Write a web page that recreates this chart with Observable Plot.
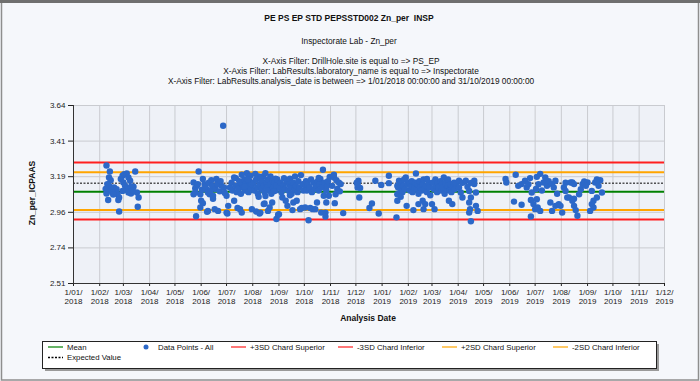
<!DOCTYPE html>
<html><head><meta charset="utf-8">
<script src="https://cdn.jsdelivr.net/npm/d3@7"></script>
<script src="https://cdn.jsdelivr.net/npm/@observablehq/plot@0.6"></script>
<style>
html,body{margin:0;padding:0;background:#f5f7fb;}
#chart{width:700px;height:381px;position:relative;overflow:hidden;}
</style></head><body><div id="chart"></div>
<script>
// ---- texts ----
const title = "PE PS EP STD PEPSSTD002 Zn_per  INSP";
const subtitle = "Inspectorate Lab - Zn_per";
const filterLines = [
  "X-Axis Filter: DrillHole.site is equal to => PS_EP",
  "X-Axis Filter: LabResults.laboratory_name is equal to => Inspectorate",
  "X-Axis Filter: LabResults.analysis_date is between => 1/01/2018 00:00:00 and 31/10/2019 00:00:00"
];
const yTitle = "Zn_per_ICPAAS";
const xTitle = "Analysis Date";

// ---- axes ----
const xStart = "2018-01-01", xEnd = "2019-12-01";
const yTicks = [2.51, 2.736, 2.962, 3.188, 3.414, 3.64];

// ---- control lines ----
const limitNames  = ["Mean", "+3SD Chard Superior", "-3SD Chard Inferior", "+2SD Chard Superior", "-2SD Chard Inferior", "Expected Value"];
const limitValues = [3.092, 3.278, 2.916, 3.217, 2.976, 3.147];
const pointsName = "Data Points - All";

// ---- data points [date, value] ----
const pts2018a = [["2018-02-09",3.259],["2018-02-13",3.221],["2018-02-12",3.183],["2018-02-14",3.166],["2018-02-10",3.141],["2018-02-13",3.124],["2018-02-15",3.109],["2018-02-10",3.098],["2018-02-09",3.081],["2018-02-11",3.040],["2018-02-18",3.120],["2018-02-20",3.094],["2018-02-22",3.077],["2018-02-24",3.056],["2018-02-23",3.040],["2018-02-21",3.109],["2018-02-26",3.173],["2018-02-28",3.194],["2018-03-02",3.204],["2018-03-05",3.208],["2018-03-07",3.183],["2018-03-09",3.162],["2018-03-01",3.151],["2018-03-03",3.130],["2018-03-05",3.109],["2018-03-07",3.088],["2018-03-10",3.081],["2018-03-13",3.124],["2018-03-15",3.221],["2018-03-17",3.088],["2018-03-19",3.056],["2018-03-18",2.997],["2018-02-24",2.967],["2018-02-11",3.136],["2018-02-16",3.086],["2018-03-10",3.124],["2018-02-28",3.098],["2018-02-08",3.111],["2018-03-12",3.100],["2018-02-17",3.075]];
const pts2018b = [["2018-05-23",3.151],["2018-05-23",3.077],["2018-05-25",3.088],["2018-05-26",2.937],["2018-05-27",3.130],["2018-05-29",3.221],["2018-05-31",3.077],["2018-05-31",2.992],["2018-06-01",3.035],["2018-06-03",3.173],["2018-06-03",3.020],["2018-06-05",3.141],["2018-06-07",3.109],["2018-06-08",2.965],["2018-06-09",3.088],["2018-06-11",3.077],["2018-06-09",2.971],["2018-06-13",3.166],["2018-06-15",3.048],["2018-06-15",3.067],["2018-06-17",2.982],["2018-06-19",3.173],["2018-06-21",2.971],["2018-06-25",3.130],["2018-06-27",3.511],["2018-07-01",3.067],["2018-07-01",2.960],["2018-07-03",3.003],["2018-07-02",2.954],["2018-05-25",3.115],["2018-05-28",3.140],["2018-06-02",3.105],["2018-06-06",3.125],["2018-06-10",3.150],["2018-06-12",3.100],["2018-06-14",3.130],["2018-06-18",3.110],["2018-06-20",3.140],["2018-06-23",3.095],["2018-06-24",3.160],["2018-06-28",3.120],["2018-06-29",3.085],["2018-07-10",3.183],["2018-07-12",3.179],["2018-07-17",3.141],["2018-07-25",3.211],["2018-07-27",3.187],["2018-07-29",3.194],["2018-07-10",3.035],["2018-07-14",2.989],["2018-07-17",2.982],["2018-07-19",2.960],["2018-07-05",3.120],["2018-07-07",3.150],["2018-07-08",3.100],["2018-07-12",3.130],["2018-07-13",3.090],["2018-07-15",3.110],["2018-07-16",3.160],["2018-07-18",3.080],["2018-07-20",3.140],["2018-07-21",3.120],["2018-07-22",3.170],["2018-07-23",3.100],["2018-07-24",3.150],["2018-07-26",3.130],["2018-07-27",3.090],["2018-07-28",3.160],["2018-07-30",3.110],["2018-07-31",3.140],["2018-07-31",2.982],["2018-07-19",3.200],["2018-07-22",3.125],["2018-07-26",3.170]];
const pts2018c = [["2018-08-04",3.206],["2018-08-08",3.190],["2018-08-13",3.190],["2018-08-16",3.210],["2018-08-22",3.190],["2018-08-28",3.175],["2018-08-05",2.967],["2018-08-09",2.954],["2018-08-10",2.960],["2018-08-15",3.018],["2018-08-14",3.014],["2018-08-19",2.971],["2018-08-21",2.992],["2018-08-24",3.024],["2018-08-29",2.919],["2018-08-31",2.946],["2018-08-02",3.150],["2018-08-03",3.100],["2018-08-05",3.170],["2018-08-06",3.120],["2018-08-07",3.080],["2018-08-09",3.140],["2018-08-10",3.180],["2018-08-11",3.110],["2018-08-12",3.160],["2018-08-14",3.130],["2018-08-15",3.090],["2018-08-17",3.150],["2018-08-18",3.120],["2018-08-19",3.170],["2018-08-20",3.100],["2018-08-22",3.140],["2018-08-23",3.080],["2018-08-24",3.160],["2018-08-25",3.120],["2018-08-27",3.150],["2018-08-28",3.100],["2018-08-29",3.130],["2018-08-30",3.170],["2018-08-08",3.060],["2018-08-16",3.065],["2018-08-26",3.095],["2018-09-07",3.179],["2018-09-14",3.175],["2018-09-20",3.190],["2018-09-27",3.198],["2018-09-05",3.056],["2018-09-09",3.035],["2018-09-11",3.003],["2018-09-17",2.976],["2018-09-18",3.024],["2018-09-22",3.035],["2018-09-26",2.982],["2018-09-28",2.989],["2018-09-01",2.950],["2018-09-02",3.120],["2018-09-03",3.150],["2018-09-04",3.090],["2018-09-06",3.130],["2018-09-08",3.110],["2018-09-10",3.160],["2018-09-12",3.100],["2018-09-13",3.140],["2018-09-15",3.120],["2018-09-16",3.080],["2018-09-18",3.150],["2018-09-19",3.110],["2018-09-21",3.130],["2018-09-23",3.090],["2018-09-24",3.160],["2018-09-25",3.120],["2018-09-29",3.140],["2018-09-30",3.100],["2018-09-14",3.070]];
const pts2018d = [["2018-10-20",3.173],["2018-10-23",3.232],["2018-10-31",3.187],["2018-10-02",2.992],["2018-10-06",2.912],["2018-10-08",2.989],["2018-10-11",2.982],["2018-10-14",2.982],["2018-10-16",3.024],["2018-10-21",2.960],["2018-10-24",3.067],["2018-10-26",2.960],["2018-10-26",2.935],["2018-10-27",3.024],["2018-10-30",3.067],["2018-10-02",3.130],["2018-10-03",3.160],["2018-10-04",3.100],["2018-10-05",3.140],["2018-10-07",3.120],["2018-10-09",3.170],["2018-10-10",3.090],["2018-10-12",3.150],["2018-10-13",3.110],["2018-10-15",3.130],["2018-10-17",3.160],["2018-10-18",3.100],["2018-10-19",3.140],["2018-10-22",3.120],["2018-10-25",3.150],["2018-10-27",3.100],["2018-10-28",3.130],["2018-10-29",3.160],["2018-10-18",3.180],["2018-11-05",3.183],["2018-11-05",3.200],["2018-11-06",3.020],["2018-11-16",2.957],["2018-11-13",3.141],["2018-11-03",3.130],["2018-11-08",3.165],["2018-11-09",3.110],["2018-11-11",3.150],["2018-11-07",3.077],["2018-11-12",3.095],["2018-12-03",3.120],["2018-12-04",3.162],["2018-12-06",3.116],["2018-12-05",3.056],["2018-12-17",2.989],["2018-12-20",3.018],["2018-12-24",3.162],["2018-12-28",2.954],["2018-12-31",3.136],["2018-12-02",3.150],["2018-12-03",3.140]];
const pts2019a = [["2019-01-09",3.194],["2019-01-09",3.147],["2019-01-18",2.930],["2019-01-19",3.130],["2019-01-21",3.162],["2019-01-19",3.077],["2019-01-19",3.035],["2019-01-29",3.183],["2019-01-30",3.003],["2019-01-20",3.120],["2019-01-22",3.140],["2019-01-23",3.100],["2019-01-24",3.150],["2019-01-25",3.090],["2019-01-26",3.130],["2019-01-27",3.170],["2019-01-28",3.110],["2019-01-31",3.140],["2019-01-23",3.060],["2019-02-07",2.976],["2019-02-10",3.208],["2019-02-02",3.150],["2019-02-03",3.100],["2019-02-04",3.130],["2019-02-05",3.160],["2019-02-06",3.090],["2019-02-08",3.120],["2019-02-09",3.150],["2019-02-11",3.110],["2019-02-12",3.140],["2019-02-13",3.080],["2019-02-14",3.160],["2019-02-15",3.120],["2019-02-17",3.100],["2019-02-18",3.140],["2019-02-19",3.170],["2019-02-20",3.110],["2019-02-22",3.130],["2019-02-23",3.090],["2019-02-25",3.150],["2019-02-26",3.120],["2019-02-27",3.070],["2019-02-18",3.035],["2019-02-19",2.982],["2019-02-21",3.014],["2019-02-13",3.014],["2019-02-23",3.173]];
const pts2019b = [["2019-03-01",3.014],["2019-03-04",2.982],["2019-03-15",3.183],["2019-03-21",3.035],["2019-03-25",3.014],["2019-03-02",3.150],["2019-03-03",3.110],["2019-03-05",3.170],["2019-03-06",3.130],["2019-03-07",3.090],["2019-03-08",3.150],["2019-03-09",3.120],["2019-03-11",3.160],["2019-03-12",3.100],["2019-03-13",3.140],["2019-03-14",3.120],["2019-03-16",3.080],["2019-03-17",3.150],["2019-03-18",3.110],["2019-03-19",3.130],["2019-03-20",3.170],["2019-03-22",3.100],["2019-03-23",3.140],["2019-03-24",3.090],["2019-03-26",3.120],["2019-03-27",3.150],["2019-03-28",3.110],["2019-03-30",3.130],["2019-03-29",3.149],["2019-04-02",3.162],["2019-04-06",3.149],["2019-04-10",3.162],["2019-04-16",3.149],["2019-04-20",3.162],["2019-04-02",3.120],["2019-04-04",3.088],["2019-04-06",3.056],["2019-04-12",3.124],["2019-04-14",3.098],["2019-04-16",3.056],["2019-04-14",3.024],["2019-04-15",2.982],["2019-04-14",2.960],["2019-04-16",2.905],["2019-04-22",3.088],["2019-04-22",3.003],["2019-04-24",2.971],["2019-04-20",3.141]];
const pts2019c = [["2019-05-27",3.173],["2019-05-28",3.151],["2019-06-06",3.030],["2019-06-08",3.200],["2019-06-11",3.130],["2019-06-15",3.010],["2019-06-15",3.141],["2019-06-19",3.162],["2019-06-21",3.120],["2019-06-25",3.179],["2019-06-23",3.140],["2019-06-27",3.088],["2019-06-26",3.040],["2019-06-29",3.014],["2019-06-26",2.935],["2019-07-01",2.982],["2019-07-03",3.187],["2019-07-05",3.140],["2019-07-07",3.206],["2019-07-03",3.045],["2019-07-04",2.992],["2019-07-07",2.971],["2019-07-11",3.151],["2019-07-13",3.183],["2019-07-15",3.130],["2019-07-17",3.160],["2019-07-21",3.141],["2019-07-23",3.120],["2019-07-25",3.162],["2019-07-19",3.024],["2019-07-21",2.971],["2019-07-25",3.003],["2019-07-29",3.014],["2019-07-09",3.100],["2019-07-02",3.110],["2019-07-27",3.080]];
const pts2019d = [["2019-07-31",3.003],["2019-08-02",2.960],["2019-08-06",3.098],["2019-08-10",3.056],["2019-08-14",3.151],["2019-08-16",3.048],["2019-08-12",3.151],["2019-08-16",3.141],["2019-08-08",3.056],["2019-08-14",3.035],["2019-08-16",3.003],["2019-08-18",2.976],["2019-08-20",2.940],["2019-08-22",3.077],["2019-08-24",3.109],["2019-08-26",3.141],["2019-08-28",3.158],["2019-09-01",3.151],["2019-08-30",3.130],["2019-09-06",3.098],["2019-09-10",3.151],["2019-09-14",3.130],["2019-09-18",3.088],["2019-09-12",3.056],["2019-09-08",3.035],["2019-09-06",3.014],["2019-09-08",2.992],["2019-09-04",2.971],["2019-08-06",3.150],["2019-08-04",3.120],["2019-09-16",3.165],["2019-09-12",3.170]];

// ---- build ----
const parse = d3.utcParse("%Y-%m-%d");
const points = [pts2018a, pts2018b, pts2018c, pts2018d, pts2019a, pts2019b, pts2019c, pts2019d]
  .flat().map(([d, v]) => ({date: parse(d), value: v}));
const x0 = parse(xStart), x1 = parse(xEnd);
const monthTicks = d3.utcMonth.range(x0, d3.utcDay.offset(x1, 1));
const limits = limitNames.map((name, i) => ({name, value: limitValues[i]}));
const styleOf = {
  "Mean": {stroke: "#008000", strokeWidth: 2},
  "+3SD Chard Superior": {stroke: "#ff1f1f", strokeWidth: 2},
  "-3SD Chard Inferior": {stroke: "#ff1f1f", strokeWidth: 2},
  "+2SD Chard Superior": {stroke: "#ffa500", strokeWidth: 2},
  "-2SD Chard Inferior": {stroke: "#ffa500", strokeWidth: 2},
  "Expected Value": {stroke: "#000", strokeWidth: 1, strokeDasharray: "2,1.5"}
};
const dotColor = "#2c68c8";
const fontFamily = "'Liberation Sans', Arial, sans-serif";

const fmtMonth = d => `1/${String(d.getUTCMonth() + 1).padStart(2, "0")}/\n${d.getUTCFullYear()}`;

const plot = Plot.plot({
  width: 700, height: 381,
  marginTop: 105, marginRight: 36, marginBottom: 98, marginLeft: 73,
  style: {background: "transparent", fontFamily, fontSize: "8px", color: "#222", overflow: "visible"},
  x: {type: "utc", domain: [x0, x1]},
  y: {domain: [yTicks[0], yTicks[yTicks.length - 1]]},
  marks: [
    Plot.frame({fill: "#eef1f7", stroke: null}),
    Plot.gridX(monthTicks, {stroke: "#c9cbd0", strokeOpacity: 1}),
    Plot.gridY(yTicks, {stroke: "#c9cbd0", strokeOpacity: 1}),
    ...limits.map(l => Plot.ruleY([l], {y: "value", ...styleOf[l.name]})),
    Plot.dot(points, {x: "date", y: "value", r: 3.2, fill: dotColor, stroke: null}),
    Plot.axisX(monthTicks, {tickFormat: fmtMonth, tickSize: 3, tickPadding: 2, lineHeight: 1.15, label: null, fill: "#222"}),
    Plot.axisY(yTicks, {tickFormat: d => d.toFixed(2), tickSize: 5, tickPadding: 3, label: null, fill: "#222"}),
    Plot.ruleX([x0], {stroke: "#333"}),
    Plot.ruleY([yTicks[0]], {stroke: "#333"})
  ]
});
document.getElementById("chart").appendChild(plot);

// ---- titles, axis titles, legend, border ----
const svg = d3.select(plot);
const tg = svg.append("g").attr("font-family", fontFamily).attr("fill", "#111").attr("text-anchor", "middle");
tg.append("text").attr("x", 349).attr("y", 20.5).attr("font-size", 8.5).attr("font-weight", "bold").text(title);
tg.append("text").attr("x", 349).attr("y", 43.5).attr("font-size", 8.3).text(subtitle);
filterLines.forEach((t, i) => tg.append("text").attr("x", 351).attr("y", 64 + i * 10).attr("font-size", 8.3).text(t));
tg.append("text").attr("transform", "translate(35,193) rotate(-90)").attr("font-size", 8.5).attr("font-weight", "bold").text(yTitle);
tg.append("text").attr("x", 368).attr("y", 321).attr("font-size", 8.5).attr("font-weight", "bold").text(xTitle);

const lg = svg.append("g").attr("font-family", fontFamily).attr("font-size", 7.8).attr("fill", "#111").attr("text-anchor", "start");
lg.append("rect").attr("x", 45).attr("y", 344).attr("width", 614).attr("height", 27).attr("fill", "#9a9a9a");
lg.append("rect").attr("x", 42.5).attr("y", 341.5).attr("width", 614).attr("height", 27).attr("fill", "#fff").attr("stroke", "#222");
const legendItems = [
  {name: limitNames[0], kind: "line", x: 48, row: 0},
  {name: pointsName, kind: "dot", x: 140, row: 0},
  {name: limitNames[1], kind: "line", x: 231, row: 0},
  {name: limitNames[2], kind: "line", x: 338, row: 0},
  {name: limitNames[3], kind: "line", x: 442, row: 0},
  {name: limitNames[4], kind: "line", x: 553, row: 0},
  {name: limitNames[5], kind: "line", x: 48, row: 1}
];
legendItems.forEach(it => {
  const cy = 347 + it.row * 10.5;
  if (it.kind === "line") {
    const s = styleOf[it.name];
    lg.append("line").attr("x1", it.x).attr("x2", it.x + 15).attr("y1", cy).attr("y2", cy)
      .attr("stroke", s.stroke).attr("stroke-width", it.name === "Expected Value" ? 1.5 : 1.2)
      .attr("stroke-dasharray", s.strokeDasharray || null);
  } else {
    lg.append("circle").attr("cx", it.x + 6).attr("cy", cy).attr("r", 2.5).attr("fill", dotColor);
  }
  lg.append("text").attr("x", it.x + (it.kind === "dot" ? 18 : 19)).attr("y", cy + 2.8).text(it.name);
});

svg.append("rect").attr("x", 1.5).attr("y", 1).attr("width", 697).attr("height", 379)
  .attr("fill", "none").attr("stroke", "#8e8e8e").attr("stroke-width", 1.5);
svg.append("rect").attr("x", 0).attr("y", 0).attr("width", 700).attr("height", 3).attr("fill", "#6f6f6f");
</script></body></html>
